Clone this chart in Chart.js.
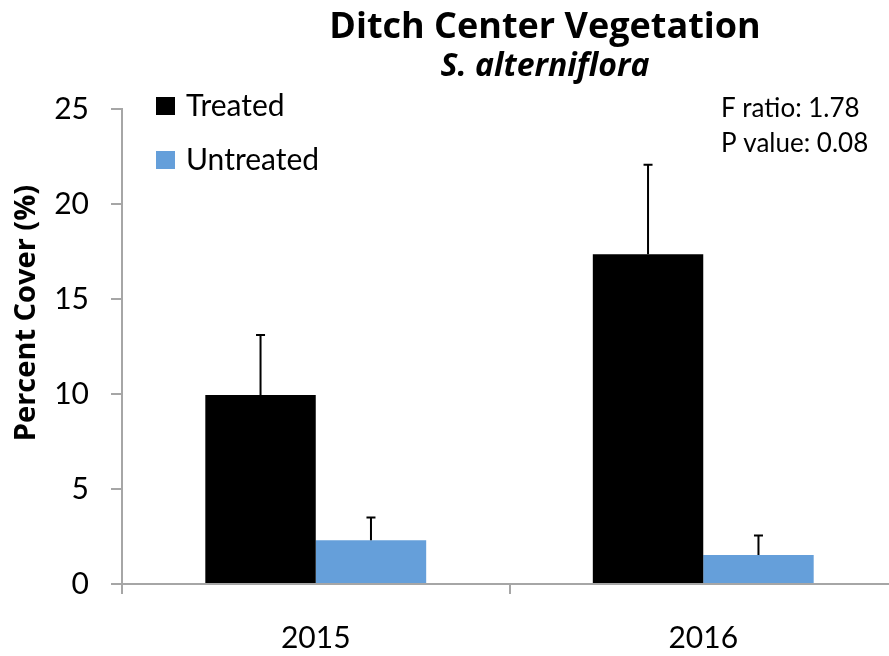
<!DOCTYPE html>
<html>
<head>
<meta charset="utf-8">
<script src="https://cdn.jsdelivr.net/npm/chart.js@4/dist/chart.umd.min.js"></script>
<style>
  html, body { margin: 0; padding: 0; background: #fff; overflow: hidden; }
  #wrap { position: relative; width: 897px; height: 656px; }
</style>
</head>
<body>
<div id="wrap"><canvas id="chart"></canvas></div>
<script>
// chart data
const categories = ['2015', '2016'];
const treated = [9.95, 17.35];
const untreated = [2.3, 1.52];
const treatedErr = [3.15, 4.72];
const untreatedErr = [1.2, 1.03];
const yTickValues = [0, 5, 10, 15, 20, 25];
const titleText = 'Ditch Center Vegetation';
const subtitleText = 'S. alterniflora';
const yTitleText = 'Percent Cover (%)';
const stats = ['F ratio: 1.78', 'P value: 0.08'];

const FONT = 'Lato, "Open Sans", sans-serif';
const BOLD_FONT = '"Open Sans", Lato, sans-serif';
const AXIS_GREY = '#a6a6a6';

// error bars drawn on top of each bar
const errorBars = {
  id: 'errorBars',
  afterDatasetsDraw(chart) {
    const ctx = chart.ctx;
    const y = chart.scales.y;
    ctx.save();
    ctx.strokeStyle = '#000';
    ctx.lineWidth = 2;
    chart.data.datasets.forEach((ds, i) => {
      const meta = chart.getDatasetMeta(i);
      meta.data.forEach((bar, j) => {
        const top = y.getPixelForValue(ds.data[j] + ds.errors[j]);
        ctx.beginPath();
        ctx.moveTo(bar.x, bar.y);
        ctx.lineTo(bar.x, top);
        ctx.moveTo(bar.x - 4.5, top);
        ctx.lineTo(bar.x + 4.5, top);
        ctx.stroke();
      });
    });
    ctx.restore();
  }
};

// titles, legend, stats text
const annotations = {
  id: 'annotations',
  afterDraw(chart) {
    const ctx = chart.ctx;
    ctx.save();
    ctx.fillStyle = '#000';
    ctx.textAlign = 'center';
    ctx.textBaseline = 'alphabetic';
    ctx.font = 'bold 36px ' + BOLD_FONT;
    ctx.fillText(titleText, 545, 38);
    ctx.font = 'italic bold 32px ' + BOLD_FONT;
    ctx.fillText(subtitleText, 545, 76);

    // y axis title
    ctx.save();
    ctx.translate(35, 313);
    ctx.rotate(-Math.PI / 2);
    ctx.font = 'bold 29px ' + BOLD_FONT;
    ctx.fillText(yTitleText, 0, 0);
    ctx.restore();

    // legend
    ctx.textAlign = 'left';
    ctx.font = '30px ' + FONT;
    chart.data.datasets.forEach((ds, i) => {
      const base = 115 + i * 54;
      ctx.fillStyle = ds.backgroundColor;
      ctx.fillRect(156, base - 18, 19, 18);
      ctx.fillStyle = '#000';
      ctx.fillText(ds.label, 186, base + 1);
    });

    // stats
    ctx.font = '26px ' + FONT;
    stats.forEach((s, i) => ctx.fillText(s, 721, 117 + i * 35));
    ctx.restore();
  }
};

new Chart(document.getElementById('chart'), {
  type: 'bar',
  data: {
    labels: categories,
    datasets: [
      { label: 'Treated', data: treated, errors: treatedErr, backgroundColor: '#000000' },
      { label: 'Untreated', data: untreated, errors: untreatedErr, backgroundColor: '#659fda' }
    ]
  },
  options: {
    responsive: true,
    maintainAspectRatio: false,
    animation: false,
    devicePixelRatio: 1,
    layout: { padding: { top: 109, left: 0, right: 0, bottom: 0 } },
    datasets: { bar: { barPercentage: 1.0, categoryPercentage: 0.57 } },
    plugins: {
      legend: { display: false },
      title: { display: false },
      tooltip: { enabled: false }
    },
    scales: {
      x: {
        offset: true,
        grid: { display: true, offset: true, drawOnChartArea: false, drawTicks: true, tickLength: 10, color: AXIS_GREY, lineWidth: 2 },
        border: { display: true, color: AXIS_GREY, width: 2 },
        ticks: { color: '#000', font: { family: FONT, size: 30 }, padding: 26, maxRotation: 0 },
        afterFit(scale) {
          scale.height = 72;
          scale.paddingLeft = 0;
          scale.paddingRight = 0;
        }
      },
      y: {
        min: 0,
        max: 25,
        afterBuildTicks(scale) {
          scale.ticks = yTickValues.map(v => ({ value: v }));
        },
        grid: { display: true, drawOnChartArea: false, drawTicks: true, tickLength: 11, color: AXIS_GREY, lineWidth: 2 },
        border: { display: true, color: AXIS_GREY, width: 2 },
        ticks: { color: '#000', font: { family: FONT, size: 30 }, padding: 22 },
        afterFit(scale) {
          scale.width = 122;
          scale.paddingTop = 0;
          scale.paddingBottom = 0;
        }
      }
    }
  },
  plugins: [errorBars, annotations]
});
</script>
</body>
</html>
